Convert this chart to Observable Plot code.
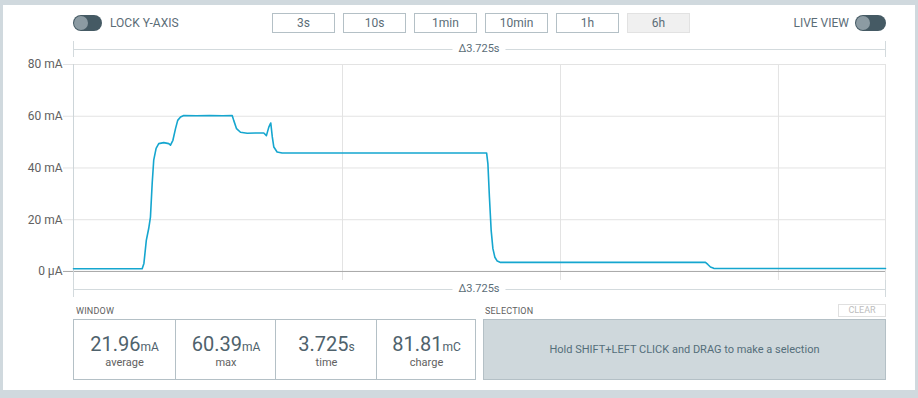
<!DOCTYPE html>
<html>
<head>
<meta charset="utf-8">
<script src="https://cdn.jsdelivr.net/npm/d3@7"></script>
<script src="https://cdn.jsdelivr.net/npm/@observablehq/plot@0.6"></script>
<style>
  html, body { margin: 0; padding: 0; }
  body { width: 918px; height: 398px; background: #d0d9de; font-family: Roboto, "Noto Sans", sans-serif; position: relative; overflow: hidden; }
  .panel { position: absolute; left: 3px; top: 5px; width: 912px; height: 385px; background: #fff; }
  .abs { position: absolute; }
  .toggle { position: absolute; width: 29px; height: 16px; border-radius: 8px; background: #455a64; }
  .toggle .knob { position: absolute; left: 1px; top: 1px; width: 14px; height: 14px; border-radius: 7px; background: #8c9ba3; }
  .lbl { position: absolute; font-size: 12px; color: #5b6d77; line-height: 16px; white-space: nowrap; }
  .btn { position: absolute; top: 13px; width: 61px; height: 18px; border: 1px solid #b4c0c6; font-size: 12px; color: #5b6d77; text-align: center; line-height: 18px; background: #fff; }
  .btn.active { background: #f0f0f0; border-color: #e2e2e2; }
  .hline { position: absolute; height: 1px; background: #d3dadd; }
  .vline { position: absolute; width: 1px; background: #d3dadd; }
  .delta { position: absolute; font-size: 11px; color: #5b6d77; background: #fff; padding: 0 6px; line-height: 14px; transform: translateX(-50%); white-space: nowrap; }
  .small { position: absolute; font-size: 9px; color: #616161; line-height: 12px; letter-spacing: 0.2px; }
  .box { position: absolute; top: 319px; height: 59px; border: 1px solid #b4c0c6; }
  .cell { position: absolute; top: 0; height: 59px; text-align: center; color: #546e7a; }
  .cell .num { position: absolute; left: 0; right: 0; top: 12px; font-size: 20px; line-height: 24px; color: #4f626c; }
  .cell .num span { font-size: 12px; }
  .cell .cap { position: absolute; left: 0; right: 0; top: 36px; font-size: 11px; line-height: 14px; color: #616161; }
  #chart { position: absolute; left: 0; top: 40px; }
</style>
</head>
<body>
<div class="panel"></div>

<div class="toggle" style="left:73px;top:15px;"><div class="knob"></div></div>
<div class="lbl" style="left:110px;top:15px;">LOCK Y-AXIS</div>
<div id="buttons"></div>
<div class="lbl" style="left:780px;width:69px;text-align:right;top:15px;">LIVE VIEW</div>
<div class="toggle" style="left:855px;top:15px;width:31px;"><div class="knob"></div></div>

<!-- top bracket -->
<div class="hline" style="left:73px;width:813px;top:49px;"></div>
<div class="vline" style="left:73px;top:41px;height:16px;"></div>
<div class="vline" style="left:885px;top:41px;height:16px;"></div>
<div class="delta" id="deltaTop" style="left:479px;top:42px;"></div>

<div id="chart"></div>

<!-- bottom bracket -->
<div class="hline" style="left:73px;width:813px;top:289px;"></div>
<div class="vline" style="left:73px;top:280px;height:17px;"></div>
<div class="vline" style="left:885px;top:280px;height:17px;"></div>
<div class="delta" id="deltaBottom" style="left:479px;top:282px;"></div>

<div class="small" style="left:76px;top:305px;">WINDOW</div>
<div class="box" id="winbox" style="left:73px;width:401px;"></div>

<div class="small" style="left:485px;top:305px;">SELECTION</div>
<div class="abs" style="left:838px;top:304px;width:46px;height:11px;border:1px solid #e0e0e0;font-size:9px;color:#bdbdbd;text-align:center;line-height:11px;">CLEAR</div>
<div class="box" style="left:483px;width:401px;background:#cfd8dc;">
  <div id="selmsg" style="position:absolute;left:0;right:0;top:23px;text-align:center;font-size:11px;color:#546e7a;line-height:14px;"></div>
</div>

<script>
// ---- data ----
const rangeButtons = ["3s", "10s", "1min", "10min", "1h", "6h"];
const activeRange = "6h";
const windowLabel = "Δ3.725s";

// time (s) and current (mA)
const times = [0.766, 1.081, 1.089, 1.100, 1.111, 1.119, 1.127, 1.134, 1.145, 1.157, 1.180, 1.203, 1.211, 1.222, 1.234, 1.244, 1.257, 1.272, 1.330, 1.390, 1.450, 1.494, 1.501, 1.514, 1.532, 1.563, 1.600, 1.639, 1.651, 1.662, 1.671, 1.678, 1.685, 1.700, 1.723, 2.000, 2.300, 2.661, 2.667, 2.674, 2.682, 2.690, 2.699, 2.710, 2.725, 3.000, 3.300, 3.665, 3.676, 3.688, 3.703, 4.000, 4.491];
const current = [1.05, 1.05, 3.1, 12.0, 16.6, 21.0, 34.1, 43.0, 47.6, 49.4, 49.8, 49.4, 48.8, 50.7, 55.2, 58.4, 59.7, 60.3, 60.2, 60.3, 60.2, 60.3, 58.4, 55.2, 53.8, 53.4, 53.5, 53.5, 52.5, 55.8, 57.4, 52.0, 48.1, 46.2, 45.8, 45.8, 45.8, 45.8, 41.7, 28.8, 15.9, 8.8, 5.5, 4.0, 3.5, 3.5, 3.5, 3.5, 2.7, 1.7, 1.2, 1.15, 1.15];

const yTicks = [0, 20, 40, 60, 80];
const yTickLabels = ["0 µA", "20 mA", "40 mA", "60 mA", "80 mA"];
const gridTimes = [2, 3, 4];
const timeDomain = [0.766, 4.491];

const statValues = ["21.96", "60.39", "3.725", "81.81"];
const statUnits = ["mA", "mA", "s", "mC"];
const statLabels = ["average", "max", "time", "charge"];
const selectionMessage = "Hold SHIFT+LEFT CLICK and DRAG to make a selection";

// ---- header buttons ----
const bwrap = document.getElementById("buttons");
rangeButtons.forEach((b, i) => {
  const d = document.createElement("div");
  d.className = "btn" + (b === activeRange ? " active" : "");
  d.style.left = (272 + 71 * i) + "px";
  d.textContent = b;
  bwrap.appendChild(d);
});
document.getElementById("deltaTop").textContent = windowLabel;
document.getElementById("deltaBottom").textContent = windowLabel;

// ---- stats ----
const wb = document.getElementById("winbox");
const cellEdges = [0, 101, 201, 302, 401];
statValues.forEach((v, i) => {
  const c = document.createElement("div");
  c.className = "cell";
  c.style.left = cellEdges[i] + "px";
  c.style.width = (cellEdges[i + 1] - cellEdges[i]) + "px";
  if (i > 0) c.style.borderLeft = "1px solid #b4c0c6";
  c.innerHTML = `<div class="num">${v}<span>${statUnits[i]}</span></div><div class="cap">${statLabels[i]}</div>`;
  wb.appendChild(c);
});
document.getElementById("selmsg").textContent = selectionMessage;

// ---- chart ----
const data = times.map((t, i) => ({t, v: current[i]}));
const chart = Plot.plot({
  width: 918,
  height: 260,
  marginLeft: 73,
  marginRight: 33,
  marginTop: 24,
  marginBottom: 20,
  style: {fontFamily: "Roboto, sans-serif", fontSize: "12px", color: "#616161", background: "transparent", overflow: "visible"},
  x: {domain: timeDomain, axis: null},
  y: {domain: [-3.5, 80], axis: null},
  marks: [
    Plot.ruleX(gridTimes, {stroke: "#e3e3e3"}),
    Plot.ruleX([timeDomain[1]], {stroke: "#e3e3e3"}),
    Plot.ruleY(yTicks.filter(d => d !== 0), {stroke: "#e3e3e3", insetLeft: -10}),
    Plot.ruleY([0], {stroke: "#a6a6a6", insetLeft: -10}),
    Plot.ruleX([timeDomain[0]], {stroke: "#cdd5d9"}),
    Plot.axisY(yTicks, {tickSize: 0, tickPadding: 11, label: null, tickFormat: d => yTickLabels[yTicks.indexOf(d)], fill: "#616161"}),
    Plot.line(data, {x: "t", y: "v", stroke: "#15a6cf", strokeWidth: 1.6})
  ]
});
document.getElementById("chart").appendChild(chart);
</script>
</body>
</html>
